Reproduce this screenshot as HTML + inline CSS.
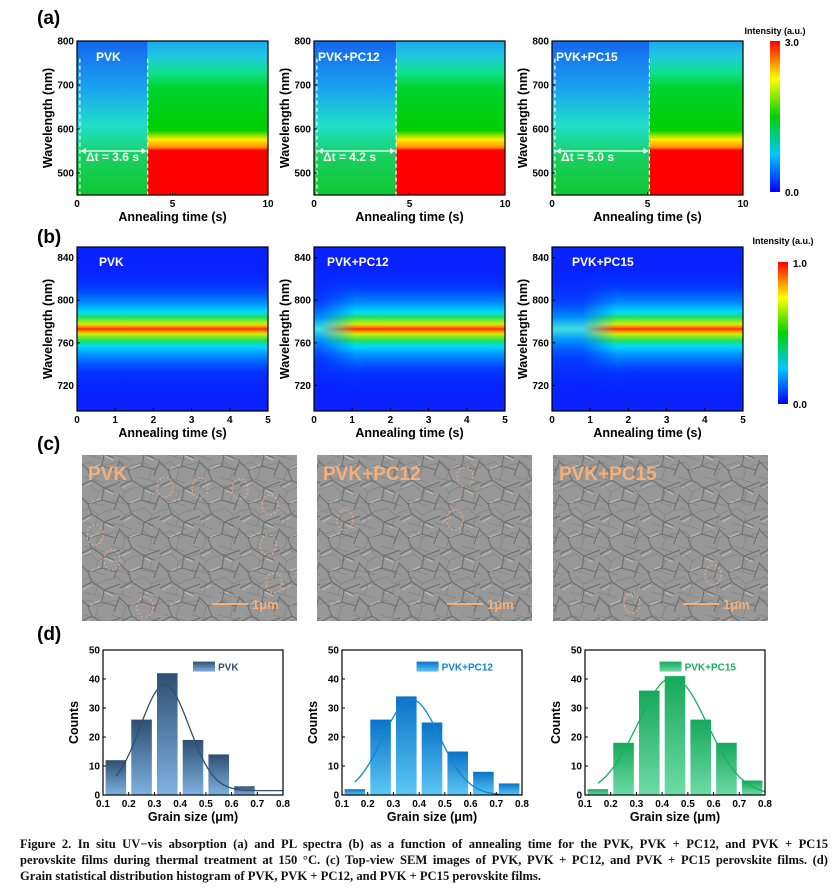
<!DOCTYPE html>
<html><head><meta charset="utf-8">
<style>
body{margin:0;background:#fff;width:833px;height:893px;overflow:hidden}
svg{display:block;font-family:"Liberation Sans",sans-serif}
.cap{position:absolute;left:20px;top:836px;width:808px;font-family:"Liberation Serif",serif;font-size:12.6px;line-height:16px;color:#111;font-weight:bold}
.cap div{text-align:justify;text-align-last:justify;white-space:nowrap}
.cap div.last{text-align-last:left}
</style></head>
<body>
<svg id="fig" width="833" height="893">
<defs>
<linearGradient id="cbar" x1="0" y1="1" x2="0" y2="0">
<stop offset="0" stop-color="#0000ff"/><stop offset="0.25" stop-color="#00c8ff"/><stop offset="0.5" stop-color="#00d200"/><stop offset="0.75" stop-color="#ffff00"/><stop offset="1" stop-color="#ff0000"/></linearGradient>
<linearGradient id="aBefore" x1="0" y1="0" x2="0" y2="1">
<stop offset="0" stop-color="#1466ee"/><stop offset="0.3" stop-color="#1aa0f0"/><stop offset="0.55" stop-color="#20e0c8"/><stop offset="0.75" stop-color="#18d060"/><stop offset="1" stop-color="#10c830"/></linearGradient>
<linearGradient id="aAfter" x1="0" y1="0" x2="0" y2="1">
<stop offset="0" stop-color="#1aa8f0"/><stop offset="0.1" stop-color="#20c8e0"/><stop offset="0.2" stop-color="#10e090"/><stop offset="0.3" stop-color="#00d230"/><stop offset="0.58" stop-color="#00d000"/><stop offset="0.64" stop-color="#ffee00"/><stop offset="0.69" stop-color="#ff9000"/><stop offset="0.71" stop-color="#ff0000"/><stop offset="1" stop-color="#ff0000"/></linearGradient>
<linearGradient id="bBand" x1="0" y1="0" x2="0" y2="1">
<stop offset="0" stop-color="#0018ff" stop-opacity="0"/><stop offset="0.2" stop-color="#0040ff" stop-opacity="0.6"/><stop offset="0.32" stop-color="#0090ff"/><stop offset="0.38" stop-color="#00d8ff"/><stop offset="0.42" stop-color="#20e060"/><stop offset="0.465" stop-color="#d0f000"/><stop offset="0.485" stop-color="#ff9000"/><stop offset="0.5" stop-color="#ff2800"/><stop offset="0.515" stop-color="#ff9000"/><stop offset="0.535" stop-color="#d0f000"/><stop offset="0.58" stop-color="#20e060"/><stop offset="0.62" stop-color="#00d8ff"/><stop offset="0.68" stop-color="#0090ff"/><stop offset="0.8" stop-color="#0040ff" stop-opacity="0.6"/><stop offset="1" stop-color="#0018ff" stop-opacity="0"/></linearGradient>
<linearGradient id="bBandW" x1="0" y1="0" x2="0" y2="1">
<stop offset="0" stop-color="#0018ff" stop-opacity="0"/><stop offset="0.3" stop-color="#0050ff" stop-opacity="0.6"/><stop offset="0.42" stop-color="#0090ff"/><stop offset="0.5" stop-color="#40e0e0"/><stop offset="0.58" stop-color="#0090ff"/><stop offset="0.7" stop-color="#0050ff" stop-opacity="0.6"/><stop offset="1" stop-color="#0018ff" stop-opacity="0"/></linearGradient>
<linearGradient id="g0" x1="0" y1="0" x2="0" y2="1"><stop offset="0" stop-color="#2f4f72"/><stop offset="1" stop-color="#7fb2e2"/></linearGradient>
<linearGradient id="g1" x1="0" y1="0" x2="0" y2="1"><stop offset="0" stop-color="#0a72c8"/><stop offset="1" stop-color="#5cc8f5"/></linearGradient>
<linearGradient id="g2" x1="0" y1="0" x2="0" y2="1"><stop offset="0" stop-color="#16a85a"/><stop offset="1" stop-color="#6edba6"/></linearGradient>
<pattern id="sem" width="40" height="34" patternUnits="userSpaceOnUse">
<rect width="40" height="34" fill="#989898"/>
<path d="M0 10 L12 4 L24 12 L40 6 M12 4 L10 0 M24 12 L22 24 L8 28 L0 20 M22 24 L36 28 L40 18 M8 28 L10 34 M36 28 L34 34 M24 12 L34 16" stroke="#6e6e6e" stroke-width="1.1" fill="none"/>
<path d="M2 12 L11 7 M25 14 L33 18 M10 27 L20 23" stroke="#c0c0c0" stroke-width="1" fill="none"/>
</pattern>
<pattern id="sem2" width="27" height="23" patternUnits="userSpaceOnUse">
<path d="M0 5 L9 2 L17 9 L27 4 M17 9 L14 20 L3 17 M14 20 L24 23" stroke="#777" stroke-width="0.8" fill="none" opacity="0.6"/>
</pattern>
</defs>
<g id="root"></g>
</svg>
<div class="cap"><div>Figure 2. In situ UV−vis absorption (a) and PL spectra (b) as a function of annealing time for the PVK, PVK + PC12, and PVK + PC15</div><div>perovskite films during thermal treatment at 150 °C. (c) Top-view SEM images of PVK, PVK + PC12, and PVK + PC15 perovskite films. (d)</div><div class="last">Grain statistical distribution histogram of PVK, PVK + PC12, and PVK + PC15 perovskite films.</div></div>
<script>
const sampleNames = ["PVK","PVK+PC12","PVK+PC15"];
const deltaT = [3.6,4.2,5.0];
const aYTicks = [500,600,700,800];
const aXTicks = [0,5,10];
const bYTicks = [720,760,800,840];
const bXTicks = [0,1,2,3,4,5];
const bOnset = [0,0.7,1.3];
const binStarts = [0.1,0.2,0.3,0.4,0.5,0.6,0.7];
const countsPVK = [12,26,42,19,14,3,0];
const countsPC12 = [2,26,34,25,15,8,4];
const countsPC15 = [2,18,36,41,26,18,5];
const fitMu = [0.34,0.37,0.44];
const fitSigma = [0.095,0.11,0.135];
const fitPeak = [36.5,33,40.5];
const fitBase = [1.5,0,0];
const dXTicks = [0.1,0.2,0.3,0.4,0.5,0.6,0.7,0.8];
const dYTicks = [0,10,20,30,40,50];
const histColors = ["#2f4f72","#0a86d8","#16b060"];

const NS="http://www.w3.org/2000/svg";
const root=document.getElementById('root');
const defs=document.querySelector('defs');
function el(tag,attrs,parent,text){const e=document.createElementNS(NS,tag);for(const k in attrs)e.setAttribute(k,attrs[k]);if(text!==undefined)e.textContent=text;(parent||root).appendChild(e);return e;}
function lin(d0,d1,r0,r1){return v=>r0+(v-d0)/(d1-d0)*(r1-r0);}

let t;
t=el('text',{x:37,y:24,'font-size':19,'font-weight':'bold'},root,'(a)');

t=el('text',{x:37,y:243,'font-size':19,'font-weight':'bold'},root,'(b)');

t=el('text',{x:37,y:450,'font-size':19,'font-weight':'bold'},root,'(c)');

t=el('text',{x:37,y:640,'font-size':19,'font-weight':'bold'},root,'(d)');


function axisFrame(g,x0,x1,y0,y1,xt,xs,yt,ys,xtitle,ytitle,fmtX){
  el('rect',{x:x0,y:y0,width:x1-x0,height:y1-y0,fill:'none',stroke:'#000','stroke-width':1.2},g);
  xt.forEach(v=>{const x=xs(v);el('line',{x1:x,x2:x,y1:y1,y2:y1-3,stroke:'#000'},g);
    const tt=el('text',{x:x,y:y1+12,'font-size':10,'font-weight':'bold','text-anchor':'middle'},g,fmtX?fmtX(v):v);
    });
  yt.forEach(v=>{const y=ys(v);el('line',{x1:x0,x2:x0+3,y1:y,y2:y,stroke:'#000'},g);
    const tt=el('text',{x:x0-3,y:y+3.5,'font-size':10,'font-weight':'bold','text-anchor':'end'},g,v);
    });
  const xtl=el('text',{x:(x0+x1)/2,y:y1+26,'font-size':12.5,'font-weight':'bold','text-anchor':'middle'},g,xtitle);
  
  const cy=(y0+y1)/2;
  const ytl=el('text',{x:x0-25,y:cy,'font-size':12.5,'font-weight':'bold','text-anchor':'middle',transform:`rotate(-90 ${x0-25} ${cy})`},g,ytitle);
  
}

// Panel a
const aX0=[77,314,552];
for(let i=0;i<3;i++){
  const g=el('g',{});
  const x0=aX0[i],x1=x0+191,y0=41,y1=195;
  const xs=lin(0,10,x0,x1),ys=lin(450,800,y1,y0);
  const tx=xs(deltaT[i]+0.1);
  el('rect',{x:x0,y:y0,width:tx-x0,height:y1-y0,fill:'url(#aBefore)'},g);
  el('rect',{x:tx,y:y0,width:x1-tx,height:y1-y0,fill:'url(#aAfter)'},g);
  el('line',{x1:xs(0.15),x2:xs(0.15),y1:ys(760),y2:y1,stroke:'#fff','stroke-dasharray':'4 3','stroke-width':1.2},g);
  el('line',{x1:tx,x2:tx,y1:ys(760),y2:y1,stroke:'#fff','stroke-dasharray':'4 3','stroke-width':1.2},g);
  const ay=ys(550);
  el('line',{x1:xs(0.2),x2:tx-1,y1:ay,y2:ay,stroke:'#fff','stroke-width':1.2},g);
  el('path',{d:`M${xs(0.2)} ${ay} l5 -3 v6z M${tx-1} ${ay} l-5 -3 v6z`,fill:'#fff'},g);
  const lab=el('text',{x:x0+9,y:ys(527),'font-size':12,'font-weight':'bold',fill:'#fff'},g,'Δt = '+deltaT[i].toFixed(1)+' s');
  
  const nm=el('text',{x:x0+(i?4:19),y:ys(755),'font-size':12,'font-weight':'bold',fill:'#fff'},g,sampleNames[i]);
  
  axisFrame(g,x0,x1,y0,y1,aXTicks,xs,aYTicks,ys,'Annealing time (s)','Wavelength (nm)');
}
function colorbar(x,y0,y1,top,bot,ty){
  const g=el('g',{});
  el('rect',{x:x,y:y0,width:10,height:y1-y0,fill:'url(#cbar)'},g);
  el('text',{x:x+15,y:y0+5,'font-size':10,'font-weight':'bold'},g,top);
  el('text',{x:x+15,y:y1+4,'font-size':10,'font-weight':'bold'},g,bot);
  el('text',{x:x+5,y:ty,'font-size':9,'font-weight':'bold','text-anchor':'middle'},g,'Intensity (a.u.)');
}
colorbar(770,41,192,'3.0','0.0',34);
colorbar(778,262,404,'1.0','0.0',244);

// Panel b
const bX0=[77,314,552];
for(let i=0;i<3;i++){
  const g=el('g',{});
  const x0=bX0[i],x1=x0+191,y0=247,y1=411;
  const xs=lin(0,5,x0,x1),ys=lin(696,850,y1,y0);
  el('rect',{x:x0,y:y0,width:x1-x0,height:y1-y0,fill:'#0a22ff'},g);
  const by=ys(773), h=ys(705)-ys(841);
  if(bOnset[i]>0){
    const s=xs(bOnset[i]);
    el('rect',{x:x0,y:by-h/2,width:s+20-x0,height:h,fill:'url(#bBandW)'},g);
    const gid='fade'+i, mid='mask'+i;
    const lg=el('linearGradient',{id:gid,gradientUnits:'userSpaceOnUse',x1:s-20,x2:s+15,y1:0,y2:0},defs);
    el('stop',{offset:0,'stop-color':'#fff','stop-opacity':0},lg);
    el('stop',{offset:1,'stop-color':'#fff','stop-opacity':1},lg);
    const m=el('mask',{id:mid,maskUnits:'userSpaceOnUse',x:0,y:0,width:833,height:893},defs);
    el('rect',{x:s-20,y:y0,width:x1-s+20,height:y1-y0,fill:`url(#${gid})`},m);
    el('rect',{x:s-20,y:by-h/2,width:x1-s+20,height:h,fill:'url(#bBand)',mask:`url(#${mid})`},g);
  } else el('rect',{x:x0,y:by-h/2,width:x1-x0,height:h,fill:'url(#bBand)'},g);
  const nm=el('text',{x:x0+(i===0?22:(i===1?13:20)),y:ys(832),'font-size':12,'font-weight':'bold',fill:'#fff'},g,sampleNames[i]);
  
  axisFrame(g,x0,x1,y0,y1,bXTicks,xs,bYTicks,ys,'Annealing time (s)','Wavelength (nm)');
}

// Panel c SEM
const semX=[82,317,553];
const rings=[[[165,487],[200,488],[240,489],[95,535],[112,560],[268,545],[274,583],[145,607],[270,505]],[[465,477],[345,520],[455,520]],[[713,575],[632,603]]];
for(let i=0;i<3;i++){
  const g=el('g',{});
  el('rect',{x:semX[i],y:455,width:215,height:166,fill:'url(#sem)'},g);
  el('rect',{x:semX[i],y:455,width:215,height:166,fill:'url(#sem2)'},g);
  rings[i].forEach(p=>el('ellipse',{cx:p[0],cy:p[1],rx:8,ry:10,fill:'none',stroke:'#f0b090','stroke-dasharray':'2 2','stroke-width':1},g));
  const nm=el('text',{x:semX[i]+6,y:480,'font-size':19,'font-weight':'bold',fill:'#f5b07a'},g,sampleNames[i]);
  
  el('line',{x1:semX[i]+130,x2:semX[i]+166,y1:604,y2:604,stroke:'#f5b07a','stroke-width':2},g);
  const sb=el('text',{x:semX[i]+170,y:609,'font-size':13,'font-weight':'bold',fill:'#f5b07a'},g,'1μm');
  
}

// Panel d histograms
const dX0=[103,342,585];
const allCounts=[countsPVK,countsPC12,countsPC15];
for(let i=0;i<3;i++){
  const g=el('g',{});
  const x0=dX0[i],x1=x0+180,y0=650,y1=795;
  const xs=lin(0.1,0.8,x0,x1),ys=lin(0,50,y1,y0);
  allCounts[i].forEach((c,j)=>{ if(c<=0)return;
    const bx=xs(binStarts[j]+0.01),bw=xs(binStarts[j]+0.09)-bx;
    const r=el('rect',{x:bx,y:ys(c),width:bw,height:ys(0)-ys(c),fill:`url(#g${i})`},g);
    });
  let d='';
  for(let k=0;k<=60;k++){const v=0.15+k*(0.65/60);
    const yv=fitBase[i]+fitPeak[i]*Math.exp(-Math.pow(v-fitMu[i],2)/(2*fitSigma[i]*fitSigma[i]));
    d+=(k?'L':'M')+xs(v).toFixed(1)+' '+ys(yv).toFixed(1);}
  const fl=el('path',{d:d,fill:'none',stroke:histColors[i],'stroke-width':1.3},g);
  
  const lx=xs(i===0?0.45:0.39);
  el('rect',{x:lx,y:ys(46),width:22,height:10,fill:`url(#g${i})`},g);
  const lg=el('text',{x:lx+25,y:ys(46)+9,'font-size':10,'font-weight':'bold',fill:histColors[i]},g,sampleNames[i]);
  
  axisFrame(g,x0,x1,y0,y1,dXTicks,xs,dYTicks,ys,'Grain size (μm)','Counts',v=>v.toFixed(1));
}
</script>
</body></html>
